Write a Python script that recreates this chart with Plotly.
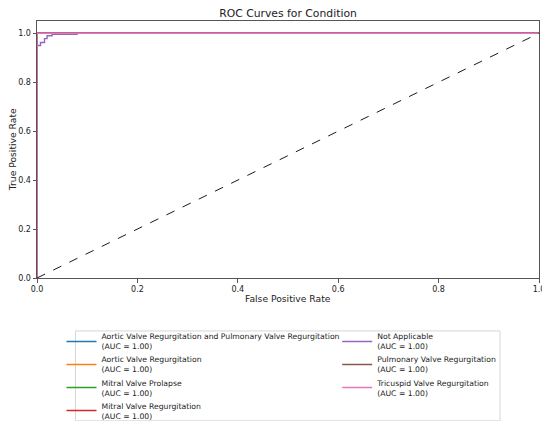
import plotly.graph_objects as go

# classes in plotting order (matplotlib default colour cycle)
classes = ['Aortic Valve Regurgitation and Pulmonary Valve Regurgitation',
           'Aortic Valve Regurgitation',
           'Mitral Valve Prolapse',
           'Mitral Valve Regurgitation',
           'Not Applicable',
           'Pulmonary Valve Regurgitation',
           'Tricuspid Valve Regurgitation']
colors = ['#1f77b4', '#ff7f0e', '#2ca02c', '#d62728', '#9467bd', '#8c564b', '#e377c2']
auc = [1.00, 1.00, 1.00, 1.00, 1.00, 1.00, 1.00]

# perfect classifiers go straight up at x=0
perfect_fpr = [0.0, 0.0, 1.0]
perfect_tpr = [0.0, 1.0, 1.0]
na_fpr = [0.0, 0.0, 0.007, 0.007, 0.015, 0.015, 0.02, 0.02, 0.03, 0.03, 0.08, 0.08, 1.0]
na_tpr = [0.0, 0.95, 0.95, 0.962, 0.962, 0.978, 0.978, 0.99, 0.99, 0.996, 0.996, 1.0, 1.0]

fprs = [perfect_fpr, perfect_fpr, perfect_fpr, perfect_fpr, na_fpr, perfect_fpr, perfect_fpr]
tprs = [perfect_tpr, perfect_tpr, perfect_tpr, perfect_tpr, na_tpr, perfect_tpr, perfect_tpr]

# two legend columns: first four classes left, the rest right
legend_col = ['legend', 'legend', 'legend', 'legend', 'legend2', 'legend2', 'legend2']

fig = go.Figure()
for i in range(len(classes)):
    fig.add_trace(go.Scatter(
        x=fprs[i], y=tprs[i], mode='lines',
        line=dict(color=colors[i], width=1.4),
        name='%s<br>(AUC = %.2f)' % (classes[i], auc[i]),
        legend=legend_col[i]))

fig.add_trace(go.Scatter(x=[0, 1], y=[0, 1], mode='lines',
                         line=dict(color='black', width=0.9, dash='dash'),
                         showlegend=False))

axis_style = dict(showline=True, linecolor='#555', linewidth=1, mirror=True,
                  ticks='outside', ticklen=3.5, tickcolor='#555',
                  showgrid=False, zeroline=False, tickformat='.1f',
                  automargin=False,
                  tickfont=dict(size=8.0, color='#222'))

legend_style = dict(orientation='v', yanchor='top', y=-0.1827, xanchor='left',
                    itemwidth=30, borderwidth=0, bgcolor='rgba(0,0,0,0)',
                    font=dict(size=7.7, color='#222'), valign='middle')

# the page sits 8px in from the window corner, so the layout is laid out 8px up/left
fig.update_layout(
    width=550, height=421,
    margin=dict(l=28.5, r=19, t=12.7, b=151, autoexpand=False),
    plot_bgcolor='white', paper_bgcolor='white',
    font=dict(family='DejaVu Sans', color='#222'),
    title=dict(text='ROC Curves for Condition', x=0.5, xref='paper', xanchor='center',
               y=1 - 5.5 / 421, yanchor='middle', font=dict(size=10.8)),
    xaxis=dict(range=[0, 1], dtick=0.2, **axis_style),
    yaxis=dict(range=[0, 1.05], tickvals=[0, 0.2, 0.4, 0.6, 0.8, 1.0], **axis_style),
    annotations=[
        dict(text='False Positive Rate', xref='paper', yref='paper', x=0.4995, y=0,
             yshift=-20, xanchor='center', yanchor='middle', showarrow=False,
             font=dict(size=9.2)),
        dict(text='True Positive Rate', xref='paper', yref='paper', x=0, y=0.5,
             xshift=-24.3, textangle=-90, xanchor='center', yanchor='middle',
             showarrow=False, font=dict(size=9.2)),
    ],
    legend=dict(x=0.0488, **legend_style),
    legend2=dict(x=0.598, **legend_style),
    # frame around both legend columns
    shapes=[dict(type='rect', xref='paper', yref='paper',
                 x0=(67 - 28.5) / 502.5, x1=(492 - 28.5) / 502.5,
                 y0=-0.5558, y1=-0.206,
                 line=dict(color='#d6d6d6', width=1), fillcolor='rgba(0,0,0,0)',
                 layer='below')],
)

fig.write_html("out.html")
